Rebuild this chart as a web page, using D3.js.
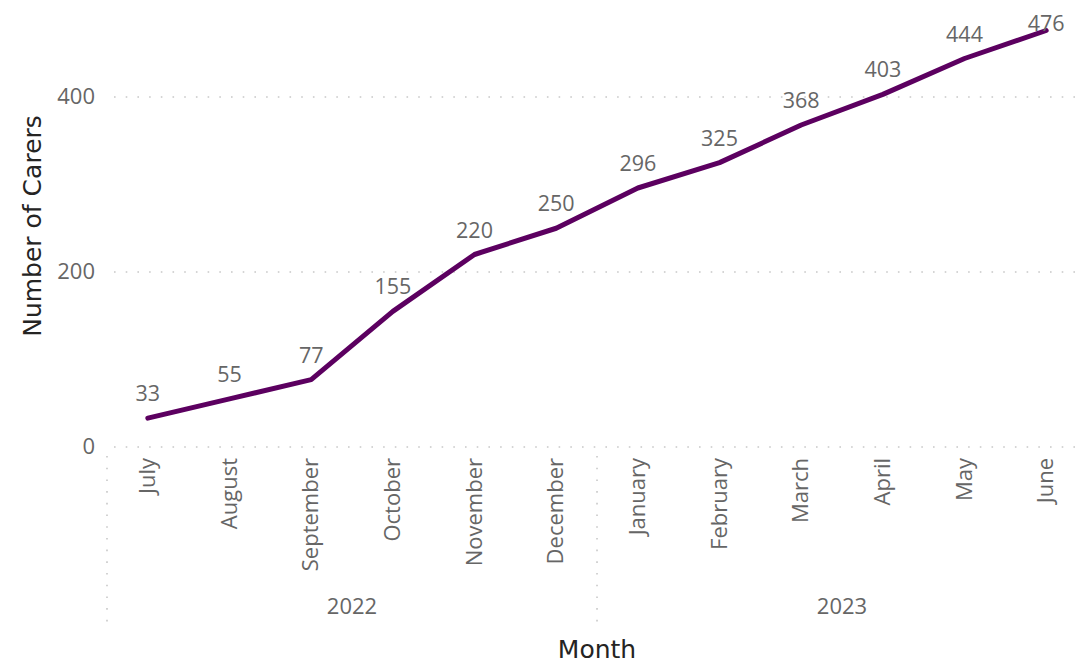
<!DOCTYPE html>
<html>
<head>
<meta charset="utf-8">
<script src="https://cdn.jsdelivr.net/npm/d3@7"></script>
<style>
  html, body { margin: 0; padding: 0; background: #fff; }
  svg { display: block; }
</style>
</head>
<body>
<svg id="chart" width="1077" height="669"></svg>
<script>
// Monthly cumulative carers, July 2022 – June 2023
const months = ["July", "August", "September", "October", "November", "December",
                "January", "February", "March", "April", "May", "June"];
const years = ["2022", "2022", "2022", "2022", "2022", "2022",
               "2023", "2023", "2023", "2023", "2023", "2023"];
const carers = [33, 55, 77, 155, 220, 250, 296, 325, 368, 403, 444, 476];
const yTicks = [0, 200, 400];

const svg = d3.select("#chart");
const labelFont = "'Open Sans', 'Noto Sans', sans-serif";
const titleFont = "'DejaVu Sans', sans-serif";
const grey = "#666666";
const lineColour = "#5c0060";

const plotLeft = 107, step = 81.67;
const x = d3.scaleBand()
  .domain(d3.range(months.length))
  .range([plotLeft, plotLeft + step * months.length])
  .padding(0);
const y = d3.scaleLinear().domain([0, 400]).range([447, 97]);

// horizontal dotted gridlines
svg.append("g").selectAll("line").data(yTicks).join("line")
  .attr("x1", 114).attr("x2", 1077)
  .attr("y1", d => y(d)).attr("y2", d => y(d))
  .attr("stroke", "#c8c8c8").attr("stroke-width", 1.6)
  .attr("stroke-dasharray", "1.6,10.1");

// y tick labels
const yAxis = d3.axisLeft(y).tickValues(yTicks).tickSize(0).tickPadding(0);
const yg = svg.append("g").attr("transform", "translate(95,0)").call(yAxis);
yg.select(".domain").remove();
yg.selectAll("text")
  .attr("font-family", labelFont).attr("font-size", 22)
  .attr("fill", grey).attr("dy", "0.28em");

// vertical dotted separators for the year hierarchy
const yearGroups = d3.groups(d3.range(months.length), i => years[i]);
const seps = [plotLeft].concat(yearGroups.slice(0, -1).map(g => x(g[1][g[1].length - 1]) + x.bandwidth()));
svg.append("g").selectAll("line").data(seps).join("line")
  .attr("x1", d => d).attr("x2", d => d)
  .attr("y1", 456).attr("y2", 628)
  .attr("stroke", "#c8c8c8").attr("stroke-width", 1.6)
  .attr("stroke-dasharray", "1.6,10.1");

// month labels (rotated)
const xAxis = d3.axisBottom(x).tickFormat(i => months[i]).tickSize(0).tickPadding(0);
const xg = svg.append("g").attr("transform", "translate(0,458)").call(xAxis);
xg.select(".domain").remove();
xg.selectAll("text")
  .attr("font-family", labelFont).attr("font-size", 22).attr("fill", grey)
  .attr("transform", "rotate(-90)")
  .attr("text-anchor", "end")
  .attr("x", 0).attr("y", 0).attr("dx", 0).attr("dy", "0.33em");

// year labels
svg.append("g").selectAll("text").data(yearGroups).join("text")
  .attr("x", g => (x(g[1][0]) + x(g[1][g[1].length - 1]) + x.bandwidth()) / 2)
  .attr("y", 614)
  .attr("text-anchor", "middle")
  .attr("font-family", labelFont).attr("font-size", 22).attr("fill", grey)
  .text(g => g[0]);

// line
const line = d3.line()
  .x((d, i) => x(i) + x.bandwidth() / 2)
  .y(d => y(d));
svg.append("path").datum(carers)
  .attr("d", line)
  .attr("fill", "none")
  .attr("stroke", lineColour)
  .attr("stroke-width", 5)
  .attr("stroke-linejoin", "round")
  .attr("stroke-linecap", "round");

// data labels
svg.append("g").selectAll("text").data(carers).join("text")
  .attr("x", (d, i) => x(i) + x.bandwidth() / 2)
  .attr("y", d => Math.max(y(d) - 17, 31))
  .attr("text-anchor", "middle")
  .attr("font-family", labelFont).attr("font-size", 21.5).attr("fill", grey)
  .text(d => d);

// axis titles
svg.append("text")
  .attr("transform", "translate(41,226) rotate(-90)")
  .attr("text-anchor", "middle")
  .attr("font-family", titleFont).attr("font-size", 25).attr("fill", "#252423")
  .text("Number of Carers");
svg.append("text")
  .attr("x", 597).attr("y", 658)
  .attr("text-anchor", "middle")
  .attr("font-family", titleFont).attr("font-size", 25).attr("fill", "#252423")
  .text("Month");
</script>
</body>
</html>
